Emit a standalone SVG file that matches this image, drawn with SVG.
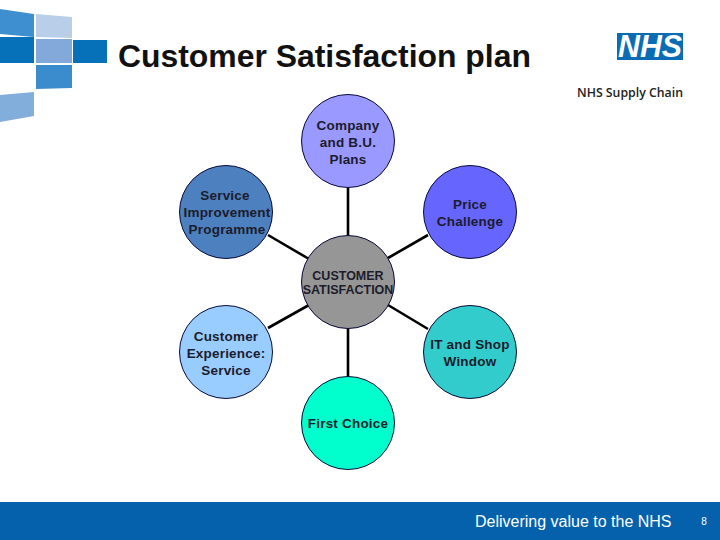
<svg xmlns="http://www.w3.org/2000/svg" width="720" height="540" viewBox="0 0 720 540">
<style>
.n{stroke:#0a0a3a;stroke-width:1}
.t{font-family:"Liberation Sans",Arial,sans-serif;font-size:13.5px;font-weight:bold;fill:#1c1c2c;text-anchor:middle;letter-spacing:.2px}
.c{stroke:#000;stroke-width:2.6;fill:none}
</style>
<rect width="720" height="540" fill="#fff"/>
<g id="decor">
<polygon points="0,9 34,14 34,37 0,34" fill="#3d8fcf"/>
<polygon points="36,14 72,17 72,38 36,37" fill="#b9cfe9"/>
<rect x="0" y="37" width="34" height="26" fill="#0670b8"/>
<rect x="36" y="39" width="36" height="24" fill="#82a9d9"/>
<rect x="73" y="40" width="34" height="23" fill="#0670b8"/>
<polygon points="36,65 72,65 72,88 36,89" fill="#3a8ccc"/>
<polygon points="0,95 34,92 34,116 0,122" fill="#82aedc"/>
</g>
<text id="title" x="118" y="67" font-family="'Liberation Sans',Arial,sans-serif" font-size="31.9" font-weight="bold" fill="#111">Customer Satisfaction plan</text>
<g id="logo">
<rect x="617" y="33" width="66" height="27" fill="#0a6cb4"/>
<text x="650" y="57" font-family="'Liberation Sans',Arial,sans-serif" font-size="31" font-weight="bold" font-style="italic" fill="#fff" text-anchor="middle" textLength="64" lengthAdjust="spacingAndGlyphs">NHS</text>
<text x="683" y="97" font-family="'Open Sans','Liberation Sans',sans-serif" font-size="12.5" font-weight="600" fill="#222" text-anchor="end" textLength="106" lengthAdjust="spacingAndGlyphs">NHS Supply Chain</text>
</g>
<g id="connectors">
<line class="c" x1="348" y1="188" x2="348" y2="236"/>
<line class="c" x1="268" y1="235" x2="309" y2="259"/>
<line class="c" x1="428" y1="235" x2="388" y2="258"/>
<line class="c" x1="268" y1="328" x2="309" y2="305"/>
<line class="c" x1="428" y1="329" x2="388" y2="305"/>
<line class="c" x1="348" y1="328" x2="348" y2="377"/>
</g>
<g id="company"><circle class="n" cx="348" cy="141" r="46.5" fill="#9999ff"/><text class="t"><tspan x="348" y="130">Company</tspan><tspan x="348" y="147">and B.U.</tspan><tspan x="348" y="164">Plans</tspan></text></g>
<g id="service"><circle class="n" cx="226" cy="212" r="46.5" fill="#4d80bf"/><text class="t"><tspan x="225" y="200">Service</tspan><tspan x="227" y="217">Improvement</tspan><tspan x="227" y="234">Programme</tspan></text></g>
<g id="price"><circle class="n" cx="470" cy="212" r="46.5" fill="#6666ff"/><text class="t"><tspan x="470" y="209">Price</tspan><tspan x="470" y="226">Challenge</tspan></text></g>
<g id="center"><circle class="n" cx="348" cy="282" r="46.5" fill="#969696"/><text class="t" style="font-size:12.5px;letter-spacing:0"><tspan x="348" y="280">CUSTOMER</tspan><tspan x="348" y="294">SATISFACTION</tspan></text></g>
<g id="experience"><circle class="n" cx="226" cy="352" r="46.5" fill="#99ccff"/><text class="t"><tspan x="226" y="341">Customer</tspan><tspan x="226" y="358">Experience:</tspan><tspan x="226" y="375">Service</tspan></text></g>
<g id="it"><circle class="n" cx="470" cy="352" r="46.5" fill="#33cccc"/><text class="t"><tspan x="470" y="349">IT and Shop</tspan><tspan x="470" y="366">Window</tspan></text></g>
<g id="first"><circle class="n" cx="348" cy="423" r="46.5" fill="#00ffcc"/><text class="t"><tspan x="348" y="428">First Choice</tspan></text></g>
<g id="footer">
<rect x="0" y="502" width="720" height="38" fill="#0561ac"/>
<text x="475" y="527" font-family="'Liberation Sans',Arial,sans-serif" font-size="16" fill="#fff">Delivering value to the NHS</text>
<text x="704" y="525" font-family="'Liberation Sans',Arial,sans-serif" font-size="10" fill="#fff" text-anchor="middle">8</text>
</g>
</svg>
